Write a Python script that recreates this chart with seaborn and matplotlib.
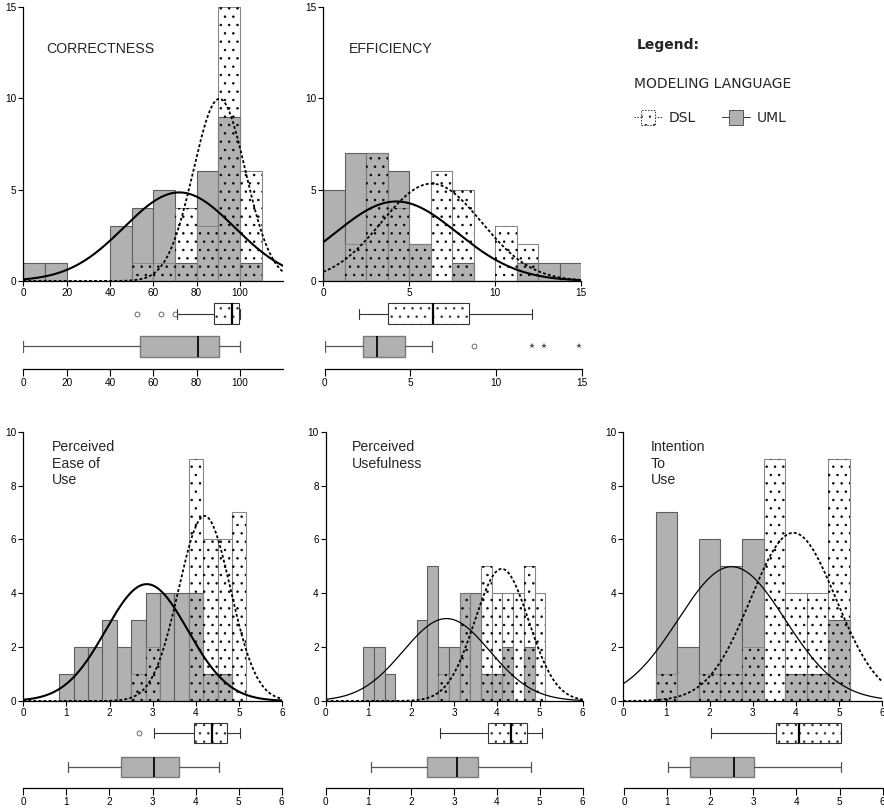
import numpy as np
import pandas as pd
import matplotlib
matplotlib.use("Agg")
import matplotlib.pyplot as plt
import seaborn as sns
from matplotlib.patches import Rectangle
from matplotlib.lines import Line2D
from matplotlib.legend_handler import HandlerBase

# ---------------------------------------------------------------- data
groups = ["DSL", "UML"]

# CORRECTNESS (bins of width 10)
corr_centers = [5, 15, 25, 35, 45, 55, 65, 75, 85, 95, 105]
corr_dsl = [0, 0, 0, 0, 0, 1, 1, 4, 3, 15, 6]
corr_uml = [1, 1, 0, 0, 3, 4, 5, 1, 6, 9, 1]
corr_binwidth = 10
corr_fit_dsl = (90.5, 12.0)     # mean, sd of fitted normal curve
corr_fit_uml = (72.0, 25.5)
corr_box_dsl = dict(whislo=71, q1=88, med=96.5, q3=99.5, whishi=100, fliers=[52.5, 63.5, 70])
corr_box_uml = dict(whislo=0, q1=54, med=80.5, q3=90.5, whishi=100, fliers=[])
corr_extreme_uml = []

# EFFICIENCY (bins of width 1.25)
eff_centers = [0.625, 1.875, 3.125, 4.375, 5.625, 6.875, 8.125, 9.375, 10.625, 11.875, 13.125, 14.375]
eff_dsl = [0, 2, 7, 4, 2, 6, 5, 0, 3, 2, 0, 0]
eff_uml = [5, 7, 7, 6, 2, 0, 1, 0, 0, 1, 1, 1]
eff_binwidth = 1.25
eff_fit_dsl = (6.3, 2.9)
eff_fit_uml = (4.25, 3.55)
eff_box_dsl = dict(whislo=2.0, q1=3.7, med=6.3, q3=8.4, whishi=12.1, fliers=[])
eff_box_uml = dict(whislo=0.0, q1=2.25, med=3.05, q3=4.7, whishi=6.25, fliers=[8.7])
eff_extreme_uml = [12.1, 12.8, 14.8]

# Perceived Ease of Use (bins of width 1/3)
peou_centers = [1.0, 1.3333, 1.6667, 2.0, 2.3333, 2.6667, 3.0, 3.3333, 3.6667, 4.0, 4.3333, 4.6667, 5.0]
peou_dsl = [0, 0, 0, 0, 0, 1, 2, 0, 0, 9, 6, 6, 7]
peou_uml = [1, 2, 2, 3, 2, 3, 4, 4, 4, 4, 1, 1, 0]
peou_binwidth = 1 / 3
peou_fit_dsl = (4.2, 0.6)
peou_fit_uml = (2.86, 0.95)
peou_box_dsl = dict(whislo=3.03, q1=3.96, med=4.37, q3=4.72, whishi=5.03, fliers=[2.69])
peou_box_uml = dict(whislo=1.03, q1=2.28, med=3.03, q3=3.62, whishi=4.54, fliers=[])
peou_extreme_uml = []

# Perceived Usefulness (bins of width 0.25)
pu_centers = [1.0, 1.25, 1.5, 1.75, 2.0, 2.25, 2.5, 2.75, 3.0, 3.25, 3.5, 3.75, 4.0, 4.25, 4.5, 4.75, 5.0]
pu_dsl = [0, 0, 0, 0, 0, 0, 0, 1, 0, 4, 0, 5, 4, 4, 4, 5, 4]
pu_uml = [2, 2, 1, 0, 0, 3, 5, 2, 2, 4, 4, 1, 1, 2, 0, 2, 0]
pu_binwidth = 0.25
pu_fit_dsl = (4.11, 0.63)
pu_fit_uml = (2.82, 1.01)
pu_box_dsl = dict(whislo=2.68, q1=3.8, med=4.32, q3=4.69, whishi=5.05, fliers=[])
pu_box_uml = dict(whislo=1.05, q1=2.37, med=3.06, q3=3.55, whishi=4.8, fliers=[])
pu_extreme_uml = []

# Intention To Use (bins of width 0.5)
itu_centers = [1.0, 1.5, 2.0, 2.5, 3.0, 3.5, 4.0, 4.5, 5.0]
itu_dsl = [1, 0, 1, 1, 2, 9, 4, 4, 9]
itu_uml = [7, 2, 6, 5, 6, 0, 1, 1, 3]
itu_binwidth = 0.5
itu_fit_dsl = (3.94, 0.99)
itu_fit_uml = (2.51, 1.24)
itu_box_dsl = dict(whislo=2.02, q1=3.53, med=4.05, q3=5.03, whishi=5.03, fliers=[])
itu_box_uml = dict(whislo=1.03, q1=1.54, med=2.54, q3=3.02, whishi=5.03, fliers=[])
itu_extreme_uml = []

titles = ["CORRECTNESS", "EFFICIENCY", "Perceived\nEase of\nUse", "Perceived\nUsefulness", "Intention\nTo\nUse"]

# ---------------------------------------------------------------- style
W, H = 884, 809
sns.set_theme(style="ticks")
plt.rcParams["font.family"] = ["Liberation Sans", "DejaVu Sans"]
plt.rcParams["hatch.linewidth"] = 0.55
plt.rcParams["axes.edgecolor"] = "black"
plt.rcParams["xtick.color"] = "black"
plt.rcParams["ytick.color"] = "black"

UML_GRAY = "#b1b1b1"
TICK_FS = 7.2
TITLE_LINE_STEP = 16.8   # px between title lines


def px_rect(x0, y0, x1, y1):
    return [x0 / W, 1 - y1 / H, (x1 - x0) / W, (y1 - y0) / H]


fig = plt.figure(figsize=(W / 100, H / 100), dpi=100)
fig.patch.set_facecolor("white")

panels = [
    dict(title=titles[0], c=corr_centers, dsl=corr_dsl, uml=corr_uml, bw=corr_binwidth,
         fd=corr_fit_dsl, fu=corr_fit_uml, bd=corr_box_dsl, bu=corr_box_uml, ext=corr_extreme_uml,
         hist=(23.3, 7, 283.3, 281), box=(23.3, 296, 283.3, 369), pos=(314, 346.5), bwid=21,
         tpos=(46.7, 53.3), xlim=(0, 120), xt=[0, 20, 40, 60, 80, 100], ylim=(0, 15), yt=[0, 5, 10, 15],
         ulw=1.5),
    dict(title=titles[1], c=eff_centers, dsl=eff_dsl, uml=eff_uml, bw=eff_binwidth,
         fd=eff_fit_dsl, fu=eff_fit_uml, bd=eff_box_dsl, bu=eff_box_uml, ext=eff_extreme_uml,
         hist=(323.3, 7, 581, 281), box=(324.5, 296, 582, 369), pos=(314, 346.5), bwid=21,
         tpos=(349.3, 53.3), xlim=(0, 15), xt=[0, 5, 10, 15], ylim=(0, 15), yt=[0, 5, 10, 15],
         ulw=1.5),
    dict(title=titles[2], c=peou_centers, dsl=peou_dsl, uml=peou_uml, bw=peou_binwidth,
         fd=peou_fit_dsl, fu=peou_fit_uml, bd=peou_box_dsl, bu=peou_box_uml, ext=peou_extreme_uml,
         hist=(23.3, 431.7, 282.3, 701), box=(23.3, 718, 281.7, 788), pos=(733, 766.5), bwid=20,
         tpos=(51.7, 450.7), xlim=(0, 6), xt=list(range(7)), ylim=(0, 10), yt=[0, 2, 4, 6, 8, 10],
         ulw=1.5),
    dict(title=titles[3], c=pu_centers, dsl=pu_dsl, uml=pu_uml, bw=pu_binwidth,
         fd=pu_fit_dsl, fu=pu_fit_uml, bd=pu_box_dsl, bu=pu_box_uml, ext=pu_extreme_uml,
         hist=(325.7, 431.7, 582.7, 701), box=(325.7, 718, 582.7, 788), pos=(733, 766.5), bwid=20,
         tpos=(351.7, 450.7), xlim=(0, 6), xt=list(range(7)), ylim=(0, 10), yt=[0, 2, 4, 6, 8, 10],
         ulw=0.9),
    dict(title=titles[4], c=itu_centers, dsl=itu_dsl, uml=itu_uml, bw=itu_binwidth,
         fd=itu_fit_dsl, fu=itu_fit_uml, bd=itu_box_dsl, bu=itu_box_uml, ext=itu_extreme_uml,
         hist=(623.3, 431.7, 882.3, 701), box=(624, 718, 882.7, 788), pos=(733, 766.5), bwid=20,
         tpos=(650.7, 450.7), xlim=(0, 6), xt=list(range(7)), ylim=(0, 10), yt=[0, 2, 4, 6, 8, 10],
         ulw=0.9),
]


def bxp_h(ax, stats, **kw):
    try:
        return ax.bxp(stats, orientation="horizontal", **kw)
    except TypeError:
        return ax.bxp(stats, vert=False, **kw)


for p in panels:
    # ------------------------- histogram + fitted normal curves
    ax = fig.add_axes(px_rect(*p["hist"]))
    bw = p["bw"]
    df = pd.DataFrame({"value": p["c"], "DSL": p["dsl"], "UML": p["uml"]})
    edges = [p["c"][0] - bw / 2 + bw * k for k in range(len(p["c"]) + 1)]
    common = dict(data=df, x="value", bins=edges, stat="count", element="bars", fill=True,
                  alpha=1, ax=ax, legend=False)
    sns.histplot(weights="DSL", facecolor="white", edgecolor="#a8a8a8", linewidth=0.8, zorder=1, **common)
    sns.histplot(weights="UML", facecolor=UML_GRAY, edgecolor="#5e5e5e", linewidth=0.8, zorder=2, **common)
    sns.histplot(weights="DSL", facecolor="none", edgecolor="#808080", linewidth=0.6, zorder=3, **common)
    sns.histplot(weights="DSL", facecolor="none", edgecolor="black", linewidth=0, hatch="..", zorder=4, **common)

    xs = np.linspace(p["xlim"][0], p["xlim"][1], 400)
    for (m, s), counts, ls, lw in [(p["fu"], p["uml"], "-", p["ulw"]),
                                   (p["fd"], p["dsl"], (0, (1.6, 1.2)), 1.3)]:
        n = np.sum(counts)
        ys = n * bw * np.exp(-0.5 * ((xs - m) / s) ** 2) / (s * np.sqrt(2 * np.pi))
        sns.lineplot(x=xs, y=ys, ax=ax, color="black", linewidth=lw, linestyle=ls,
                     errorbar=None, legend=False, zorder=5)

    ax.set_xlim(*p["xlim"])
    ax.set_ylim(*p["ylim"])
    ax.set_xticks(p["xt"])
    ax.set_yticks(p["yt"])
    ax.set_xlabel("")
    ax.set_ylabel("")
    sns.despine(ax=ax)
    for sp in ("left", "bottom"):
        ax.spines[sp].set_linewidth(0.9)
    ax.tick_params(axis="both", direction="out", length=3.5, width=0.8, labelsize=TICK_FS, pad=1.5)
    ax.patch.set_alpha(0)

    # title: baseline of the first line sits at tpos
    nlines = p["title"].count("\n") + 1
    fig.text(p["tpos"][0] / W, 1 - (p["tpos"][1] + (nlines - 1) * TITLE_LINE_STEP) / H, p["title"],
             fontsize=10.2, family=["Liberation Sans", "DejaVu Sans"], va="baseline", ha="left",
             linespacing=1.25)

    # ------------------------- box plots
    bx = fig.add_axes(px_rect(*p["box"]))
    y_top, y_bot = p["box"][1], p["box"][3]
    pos_dsl, pos_uml = p["pos"]
    bxp_h(bx, [dict(p["bd"], label="DSL")], positions=[pos_dsl], widths=p["bwid"], patch_artist=True,
          boxprops=dict(facecolor="white", edgecolor="#333333", linewidth=0.8, hatch=".."),
          medianprops=dict(color="black", linewidth=1.6),
          whiskerprops=dict(color="#333333", linewidth=0.8),
          capprops=dict(color="#333333", linewidth=0.8),
          flierprops=dict(marker="o", markersize=3.5, markerfacecolor="none",
                          markeredgecolor="#555555", markeredgewidth=0.6),
          manage_ticks=False)
    bxp_h(bx, [dict(p["bu"], label="UML")], positions=[pos_uml], widths=p["bwid"], patch_artist=True,
          boxprops=dict(facecolor=UML_GRAY, edgecolor="#7a7a7a", linewidth=1.0),
          medianprops=dict(color="#111111", linewidth=1.4),
          whiskerprops=dict(color="#555555", linewidth=0.9),
          capprops=dict(color="#555555", linewidth=0.9),
          flierprops=dict(marker="o", markersize=3.5, markerfacecolor="none",
                          markeredgecolor="#555555", markeredgewidth=0.6),
          manage_ticks=False)
    if len(p["ext"]):
        bx.plot(p["ext"], [pos_uml] * len(p["ext"]), linestyle="none", marker="*",
                markersize=4, color="#555555", markeredgewidth=0)
    bx.set_xlim(*p["xlim"])
    bx.set_ylim(y_bot, y_top)
    bx.set_xticks(p["xt"])
    bx.set_yticks([])
    for sp in ("top", "right", "left"):
        bx.spines[sp].set_visible(False)
    bx.spines["bottom"].set_linewidth(0.9)
    bx.tick_params(axis="x", direction="out", length=5, width=0.8, labelsize=TICK_FS, pad=1.5)
    bx.patch.set_alpha(0)


# ---------------------------------------------------------------- legend
class BoxKeyHandler(HandlerBase):
    def create_artists(self, legend, orig_handle, xdescent, ydescent, width, height, fontsize, trans):
        cy = height / 2 - ydescent
        ls = orig_handle.get_linestyle()
        line = Line2D([-xdescent, -xdescent + width], [cy, cy], color="#333333", lw=0.7,
                      linestyle=ls, transform=trans)
        bw_ = width * 0.5
        bh = height * 1.35
        rect = Rectangle((-xdescent + (width - bw_) / 2, cy - bh / 2), bw_, bh,
                         facecolor=orig_handle.get_facecolor(), edgecolor=orig_handle.get_edgecolor(),
                         hatch=orig_handle.get_hatch(), lw=0.7, linestyle=ls, transform=trans)
        return [line, rect]


fig.text(636.7 / W, 1 - 49.3 / H, "Legend:", fontsize=10, fontweight="bold",
         family=["DejaVu Sans"], va="baseline", ha="left")
h_dsl = Rectangle((0, 0), 1, 1, facecolor="white", edgecolor="#333333", hatch="..", linestyle=(0, (1.5, 1.5)))
h_uml = Rectangle((0, 0), 1, 1, facecolor=UML_GRAY, edgecolor="#555555", linestyle="-")
leg = fig.legend([h_dsl, h_uml], groups, handler_map={Rectangle: BoxKeyHandler()}, ncol=2,
                 frameon=False, title="MODELING LANGUAGE", alignment="left", loc="upper left",
                 bbox_to_anchor=(634 / W, 1 - 77 / H), prop=dict(family="DejaVu Sans", size=10),
                 title_fontproperties=dict(family="DejaVu Sans", size=10),
                 handlelength=2.0, handleheight=0.9, handletextpad=0.5, columnspacing=1.9,
                 labelspacing=1.45, borderpad=0, borderaxespad=0)

fig.savefig("out.png", dpi=100, facecolor="white")
